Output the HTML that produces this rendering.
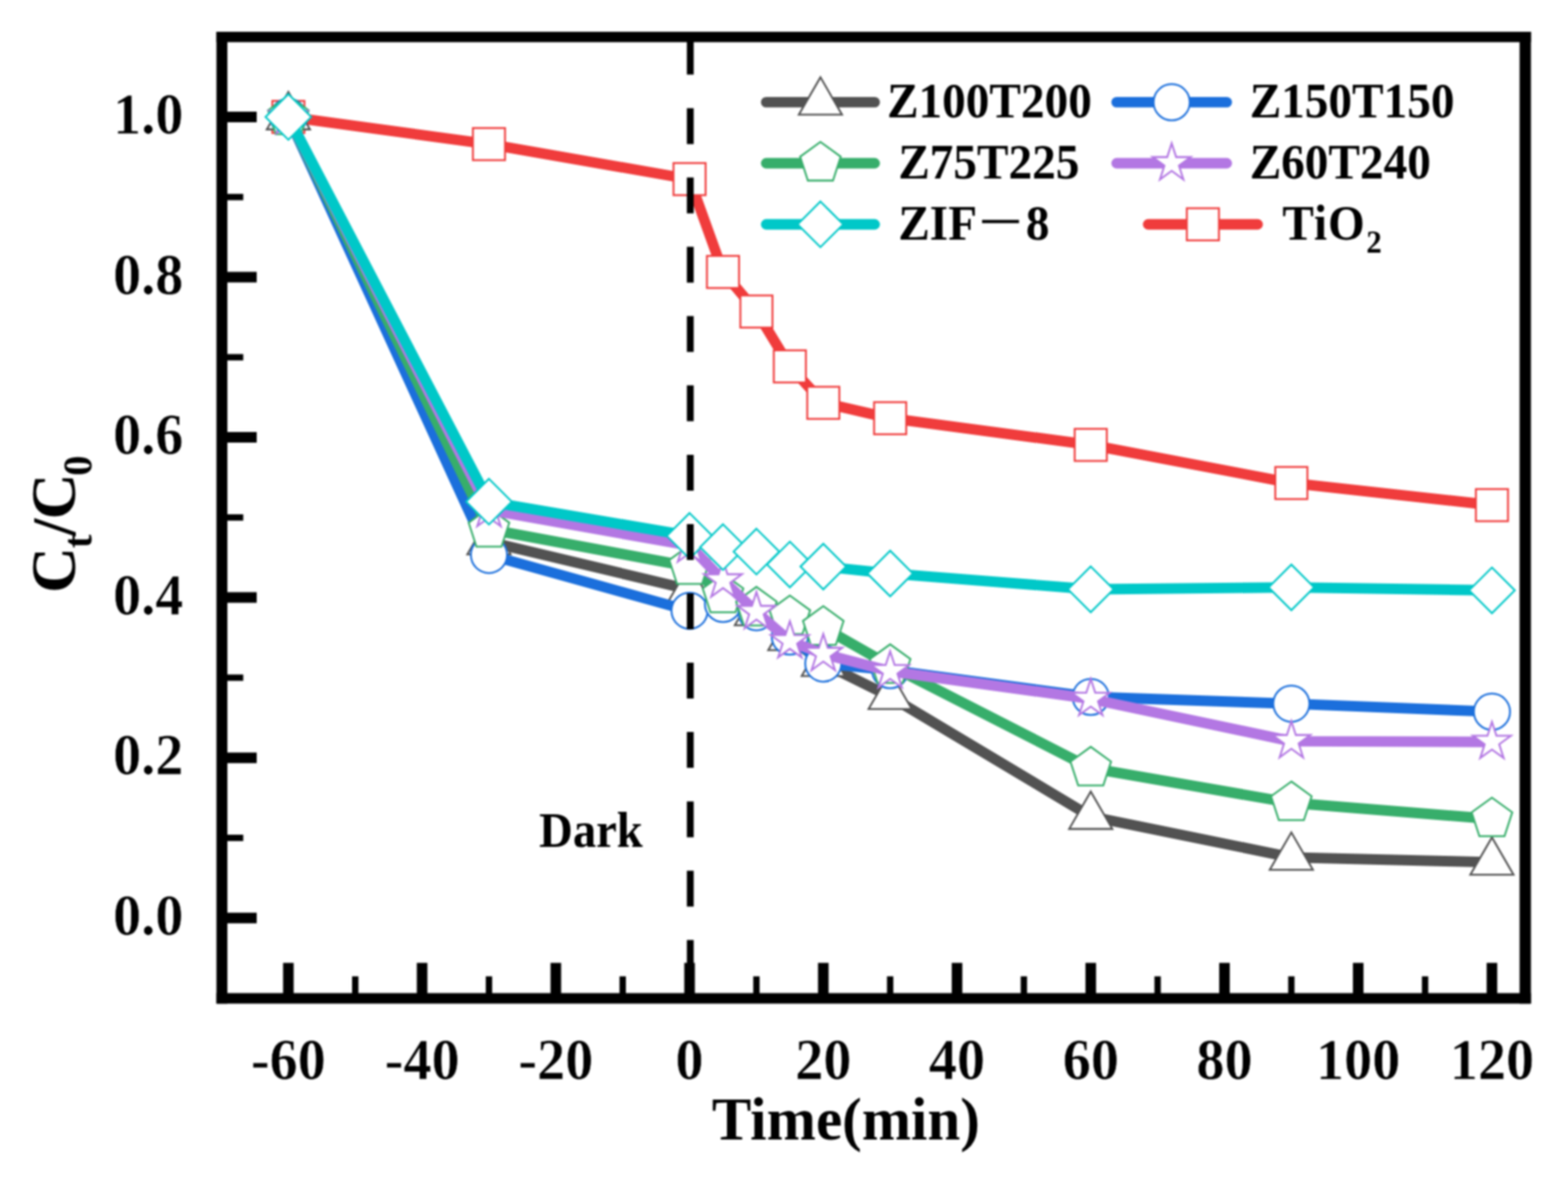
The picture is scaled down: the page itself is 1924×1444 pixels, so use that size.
<!DOCTYPE html>
<html lang="en">
<head>
<meta charset="utf-8">
<title>Ct/C0 vs Time</title>
<style>
html,body{margin:0;padding:0;background:#fff;}
body{width:1924px;height:1444px;overflow:hidden;}
svg{display:block;filter:blur(0.8px);}
</style>
</head>
<body>
<svg width="1924" height="1444" viewBox="0 0 1924 1444">
<rect width="1924" height="1444" fill="#fff"/>
<g>
<polyline points="353.85,143.47 599.98,176.79 846.12,219.74 887.15,333.64 928.17,382.18 969.19,449.5 1010.22,494.22 1092.26,513.09 1338.4,545.81 1584.54,592.59 1830.68,619.72" fill="none" stroke="#f03c3c" stroke-width="12.9" stroke-linejoin="round" stroke-linecap="butt"/>
<rect x="334.15" y="123.77" width="39.4" height="39.4" fill="#fff" stroke="#f03c3c" stroke-width="2.3" stroke-linejoin="miter"/>
<rect x="580.28" y="157.09" width="39.4" height="39.4" fill="#fff" stroke="#f03c3c" stroke-width="2.3" stroke-linejoin="miter"/>
<rect x="826.42" y="200.04" width="39.4" height="39.4" fill="#fff" stroke="#f03c3c" stroke-width="2.3" stroke-linejoin="miter"/>
<rect x="867.45" y="313.94" width="39.4" height="39.4" fill="#fff" stroke="#f03c3c" stroke-width="2.3" stroke-linejoin="miter"/>
<rect x="908.47" y="362.48" width="39.4" height="39.4" fill="#fff" stroke="#f03c3c" stroke-width="2.3" stroke-linejoin="miter"/>
<rect x="949.49" y="429.8" width="39.4" height="39.4" fill="#fff" stroke="#f03c3c" stroke-width="2.3" stroke-linejoin="miter"/>
<rect x="990.52" y="474.52" width="39.4" height="39.4" fill="#fff" stroke="#f03c3c" stroke-width="2.3" stroke-linejoin="miter"/>
<rect x="1072.56" y="493.39" width="39.4" height="39.4" fill="#fff" stroke="#f03c3c" stroke-width="2.3" stroke-linejoin="miter"/>
<rect x="1318.7" y="526.11" width="39.4" height="39.4" fill="#fff" stroke="#f03c3c" stroke-width="2.3" stroke-linejoin="miter"/>
<rect x="1564.84" y="572.89" width="39.4" height="39.4" fill="#fff" stroke="#f03c3c" stroke-width="2.3" stroke-linejoin="miter"/>
<rect x="1810.98" y="600.02" width="39.4" height="39.4" fill="#fff" stroke="#f03c3c" stroke-width="2.3" stroke-linejoin="miter"/>
</g>
<g>
<polyline points="353.85,143.47 599.98,664.73 846.12,723.3 887.15,735.09 928.17,751.8 969.19,782.26 1010.22,814.01 1092.26,854.59 1338.4,1001.71 1584.54,1051.83 1830.68,1057.92" fill="none" stroke="#525252" stroke-width="12.9" stroke-linejoin="round" stroke-linecap="butt"/>
<polygon points="353.85,112.87 380.35,158.77 327.35,158.77" fill="#fff" stroke="#525252" stroke-width="2.3" stroke-linejoin="miter"/>
<polygon points="599.98,634.13 626.48,680.03 573.48,680.03" fill="#fff" stroke="#525252" stroke-width="2.3" stroke-linejoin="miter"/>
<polygon points="846.12,692.7 872.62,738.6 819.62,738.6" fill="#fff" stroke="#525252" stroke-width="2.3" stroke-linejoin="miter"/>
<polygon points="887.15,704.49 913.65,750.39 860.65,750.39" fill="#fff" stroke="#525252" stroke-width="2.3" stroke-linejoin="miter"/>
<polygon points="928.17,721.2 954.67,767.1 901.67,767.1" fill="#fff" stroke="#525252" stroke-width="2.3" stroke-linejoin="miter"/>
<polygon points="969.19,751.66 995.69,797.56 942.69,797.56" fill="#fff" stroke="#525252" stroke-width="2.3" stroke-linejoin="miter"/>
<polygon points="1010.22,783.41 1036.72,829.31 983.72,829.31" fill="#fff" stroke="#525252" stroke-width="2.3" stroke-linejoin="miter"/>
<polygon points="1092.26,823.99 1118.76,869.89 1065.76,869.89" fill="#fff" stroke="#525252" stroke-width="2.3" stroke-linejoin="miter"/>
<polygon points="1338.4,971.11 1364.9,1017.01 1311.9,1017.01" fill="#fff" stroke="#525252" stroke-width="2.3" stroke-linejoin="miter"/>
<polygon points="1584.54,1021.23 1611.04,1067.13 1558.04,1067.13" fill="#fff" stroke="#525252" stroke-width="2.3" stroke-linejoin="miter"/>
<polygon points="1830.68,1027.32 1857.18,1073.22 1804.18,1073.22" fill="#fff" stroke="#525252" stroke-width="2.3" stroke-linejoin="miter"/>
</g>
<g>
<polyline points="353.85,143.47 599.98,680.84 846.12,749.34 887.15,740.99 928.17,751.11 969.19,780.98 1010.22,814.1 1092.26,822.16 1338.4,854.99 1584.54,863.34 1830.68,873.17" fill="none" stroke="#1b6fdc" stroke-width="12.9" stroke-linejoin="round" stroke-linecap="butt"/>
<circle cx="353.85" cy="143.47" r="22.2" fill="#fff" stroke="#1b6fdc" stroke-width="2.3" stroke-linejoin="miter"/>
<circle cx="599.98" cy="680.84" r="22.2" fill="#fff" stroke="#1b6fdc" stroke-width="2.3" stroke-linejoin="miter"/>
<circle cx="846.12" cy="749.34" r="22.2" fill="#fff" stroke="#1b6fdc" stroke-width="2.3" stroke-linejoin="miter"/>
<circle cx="887.15" cy="740.99" r="22.2" fill="#fff" stroke="#1b6fdc" stroke-width="2.3" stroke-linejoin="miter"/>
<circle cx="928.17" cy="751.11" r="22.2" fill="#fff" stroke="#1b6fdc" stroke-width="2.3" stroke-linejoin="miter"/>
<circle cx="969.19" cy="780.98" r="22.2" fill="#fff" stroke="#1b6fdc" stroke-width="2.3" stroke-linejoin="miter"/>
<circle cx="1010.22" cy="814.1" r="22.2" fill="#fff" stroke="#1b6fdc" stroke-width="2.3" stroke-linejoin="miter"/>
<circle cx="1092.26" cy="822.16" r="22.2" fill="#fff" stroke="#1b6fdc" stroke-width="2.3" stroke-linejoin="miter"/>
<circle cx="1338.4" cy="854.99" r="22.2" fill="#fff" stroke="#1b6fdc" stroke-width="2.3" stroke-linejoin="miter"/>
<circle cx="1584.54" cy="863.34" r="22.2" fill="#fff" stroke="#1b6fdc" stroke-width="2.3" stroke-linejoin="miter"/>
<circle cx="1830.68" cy="873.17" r="22.2" fill="#fff" stroke="#1b6fdc" stroke-width="2.3" stroke-linejoin="miter"/>
</g>
<g>
<polyline points="353.85,143.47 599.98,649.39 846.12,695.09 887.15,729.98 928.17,746.2 969.19,756.81 1010.22,769.88 1092.26,816.66 1338.4,942.45 1584.54,985 1830.68,1004.76" fill="none" stroke="#37ae6b" stroke-width="12.9" stroke-linejoin="round" stroke-linecap="butt"/>
<polygon points="353.85,117.27 378.76,135.38 369.25,164.67 338.45,164.67 328.93,135.38" fill="#fff" stroke="#37ae6b" stroke-width="2.3" stroke-linejoin="miter"/>
<polygon points="599.98,623.19 624.9,641.3 615.38,670.59 584.58,670.59 575.07,641.3" fill="#fff" stroke="#37ae6b" stroke-width="2.3" stroke-linejoin="miter"/>
<polygon points="846.12,668.89 871.04,687 861.52,716.29 830.72,716.29 821.21,687" fill="#fff" stroke="#37ae6b" stroke-width="2.3" stroke-linejoin="miter"/>
<polygon points="887.15,703.78 912.06,721.88 902.55,751.18 871.75,751.18 862.23,721.88" fill="#fff" stroke="#37ae6b" stroke-width="2.3" stroke-linejoin="miter"/>
<polygon points="928.17,720 953.09,738.1 943.57,767.39 912.77,767.39 903.25,738.1" fill="#fff" stroke="#37ae6b" stroke-width="2.3" stroke-linejoin="miter"/>
<polygon points="969.19,730.61 994.11,748.71 984.59,778.01 953.79,778.01 944.27,748.71" fill="#fff" stroke="#37ae6b" stroke-width="2.3" stroke-linejoin="miter"/>
<polygon points="1010.22,743.68 1035.13,761.78 1025.62,791.08 994.82,791.08 985.3,761.78" fill="#fff" stroke="#37ae6b" stroke-width="2.3" stroke-linejoin="miter"/>
<polygon points="1092.26,790.46 1117.18,808.56 1107.66,837.85 1076.86,837.85 1067.34,808.56" fill="#fff" stroke="#37ae6b" stroke-width="2.3" stroke-linejoin="miter"/>
<polygon points="1338.4,916.25 1363.32,934.35 1353.8,963.65 1323,963.65 1313.48,934.35" fill="#fff" stroke="#37ae6b" stroke-width="2.3" stroke-linejoin="miter"/>
<polygon points="1584.54,958.8 1609.46,976.91 1599.94,1006.2 1569.14,1006.2 1559.62,976.91" fill="#fff" stroke="#37ae6b" stroke-width="2.3" stroke-linejoin="miter"/>
<polygon points="1830.68,978.56 1855.59,996.66 1846.08,1025.95 1815.28,1025.95 1805.76,996.66" fill="#fff" stroke="#37ae6b" stroke-width="2.3" stroke-linejoin="miter"/>
</g>
<g>
<polyline points="353.85,143.47 599.98,625.71 846.12,669.25 887.15,712.09 928.17,750.81 969.19,786.68 1010.22,802.31 1092.26,823.54 1338.4,857.44 1584.54,909.33 1830.68,910.22" fill="none" stroke="#b377e3" stroke-width="12.9" stroke-linejoin="round" stroke-linecap="butt"/>
<polygon points="353.85,118.97 359.35,135.9 377.15,135.9 362.75,146.37 368.25,163.3 353.85,152.83 339.45,163.3 344.95,146.37 330.55,135.9 348.35,135.9" fill="#fff" stroke="#b377e3" stroke-width="2.3" stroke-linejoin="miter"/>
<polygon points="599.98,601.21 605.49,618.14 623.29,618.14 608.89,628.6 614.39,645.53 599.98,635.07 585.58,645.53 591.08,628.6 576.68,618.14 594.48,618.14" fill="#fff" stroke="#b377e3" stroke-width="2.3" stroke-linejoin="miter"/>
<polygon points="846.12,644.75 851.62,661.67 869.42,661.68 855.02,672.14 860.52,689.07 846.12,678.61 831.72,689.07 837.22,672.14 822.82,661.68 840.62,661.67" fill="#fff" stroke="#b377e3" stroke-width="2.3" stroke-linejoin="miter"/>
<polygon points="887.15,687.59 892.65,704.52 910.45,704.52 896.05,714.99 901.55,731.92 887.15,721.45 872.75,731.92 878.25,714.99 863.85,704.52 881.65,704.52" fill="#fff" stroke="#b377e3" stroke-width="2.3" stroke-linejoin="miter"/>
<polygon points="928.17,726.31 933.67,743.24 951.47,743.24 937.07,753.71 942.57,770.64 928.17,760.17 913.77,770.64 919.27,753.71 904.87,743.24 922.67,743.24" fill="#fff" stroke="#b377e3" stroke-width="2.3" stroke-linejoin="miter"/>
<polygon points="969.19,762.18 974.69,779.11 992.49,779.11 978.09,789.58 983.59,806.51 969.19,796.04 954.79,806.51 960.29,789.58 945.89,779.11 963.69,779.11" fill="#fff" stroke="#b377e3" stroke-width="2.3" stroke-linejoin="miter"/>
<polygon points="1010.22,777.81 1015.72,794.74 1033.52,794.74 1019.12,805.2 1024.62,822.13 1010.22,811.67 995.81,822.13 1001.31,805.2 986.91,794.74 1004.71,794.74" fill="#fff" stroke="#b377e3" stroke-width="2.3" stroke-linejoin="miter"/>
<polygon points="1092.26,799.04 1097.76,815.97 1115.56,815.97 1101.16,826.43 1106.66,843.36 1092.26,832.9 1077.86,843.36 1083.36,826.43 1068.96,815.97 1086.76,815.97" fill="#fff" stroke="#b377e3" stroke-width="2.3" stroke-linejoin="miter"/>
<polygon points="1338.4,832.94 1343.9,849.87 1361.7,849.87 1347.3,860.33 1352.8,877.26 1338.4,866.8 1324,877.26 1329.5,860.33 1315.1,849.87 1332.9,849.87" fill="#fff" stroke="#b377e3" stroke-width="2.3" stroke-linejoin="miter"/>
<polygon points="1584.54,884.83 1590.04,901.76 1607.84,901.76 1593.44,912.22 1598.94,929.15 1584.54,918.69 1570.14,929.15 1575.64,912.22 1561.24,901.76 1579.04,901.76" fill="#fff" stroke="#b377e3" stroke-width="2.3" stroke-linejoin="miter"/>
<polygon points="1830.68,885.72 1836.18,902.64 1853.98,902.65 1839.58,913.11 1845.08,930.04 1830.68,919.58 1816.28,930.04 1821.78,913.11 1807.38,902.65 1825.18,902.64" fill="#fff" stroke="#b377e3" stroke-width="2.3" stroke-linejoin="miter"/>
</g>
<g>
<polyline points="353.85,143.47 599.98,615.49 846.12,657.45 887.15,671.21 928.17,676.72 969.19,692.54 1010.22,695.09 1092.26,703.64 1338.4,723 1584.54,720.64 1830.68,724.28" fill="none" stroke="#00c8c8" stroke-width="12.9" stroke-linejoin="round" stroke-linecap="butt"/>
<polygon points="353.85,115.47 381.85,143.47 353.85,171.47 325.85,143.47" fill="#fff" stroke="#00c8c8" stroke-width="2.3" stroke-linejoin="miter"/>
<polygon points="599.98,587.49 627.98,615.49 599.98,643.49 571.98,615.49" fill="#fff" stroke="#00c8c8" stroke-width="2.3" stroke-linejoin="miter"/>
<polygon points="846.12,629.45 874.12,657.45 846.12,685.45 818.12,657.45" fill="#fff" stroke="#00c8c8" stroke-width="2.3" stroke-linejoin="miter"/>
<polygon points="887.15,643.21 915.15,671.21 887.15,699.21 859.15,671.21" fill="#fff" stroke="#00c8c8" stroke-width="2.3" stroke-linejoin="miter"/>
<polygon points="928.17,648.72 956.17,676.72 928.17,704.72 900.17,676.72" fill="#fff" stroke="#00c8c8" stroke-width="2.3" stroke-linejoin="miter"/>
<polygon points="969.19,664.54 997.19,692.54 969.19,720.54 941.19,692.54" fill="#fff" stroke="#00c8c8" stroke-width="2.3" stroke-linejoin="miter"/>
<polygon points="1010.22,667.09 1038.22,695.09 1010.22,723.09 982.22,695.09" fill="#fff" stroke="#00c8c8" stroke-width="2.3" stroke-linejoin="miter"/>
<polygon points="1092.26,675.64 1120.26,703.64 1092.26,731.64 1064.26,703.64" fill="#fff" stroke="#00c8c8" stroke-width="2.3" stroke-linejoin="miter"/>
<polygon points="1338.4,695 1366.4,723 1338.4,751 1310.4,723" fill="#fff" stroke="#00c8c8" stroke-width="2.3" stroke-linejoin="miter"/>
<polygon points="1584.54,692.64 1612.54,720.64 1584.54,748.64 1556.54,720.64" fill="#fff" stroke="#00c8c8" stroke-width="2.3" stroke-linejoin="miter"/>
<polygon points="1830.68,696.28 1858.68,724.28 1830.68,752.28 1802.68,724.28" fill="#fff" stroke="#00c8c8" stroke-width="2.3" stroke-linejoin="miter"/>
</g>
<g stroke="#000" fill="none">
<line x1="353.85" y1="1224.5" x2="353.85" y2="1181.3" stroke-width="13"/>
<line x1="517.94" y1="1224.5" x2="517.94" y2="1181.3" stroke-width="13"/>
<line x1="682.03" y1="1224.5" x2="682.03" y2="1181.3" stroke-width="13"/>
<line x1="846.12" y1="1224.5" x2="846.12" y2="1181.3" stroke-width="13"/>
<line x1="1010.22" y1="1224.5" x2="1010.22" y2="1181.3" stroke-width="13"/>
<line x1="1174.31" y1="1224.5" x2="1174.31" y2="1181.3" stroke-width="13"/>
<line x1="1338.4" y1="1224.5" x2="1338.4" y2="1181.3" stroke-width="13"/>
<line x1="1502.49" y1="1224.5" x2="1502.49" y2="1181.3" stroke-width="13"/>
<line x1="1666.58" y1="1224.5" x2="1666.58" y2="1181.3" stroke-width="13"/>
<line x1="1830.68" y1="1224.5" x2="1830.68" y2="1181.3" stroke-width="13"/>
<line x1="435.89" y1="1224.5" x2="435.89" y2="1197.8" stroke-width="7.8"/>
<line x1="599.98" y1="1224.5" x2="599.98" y2="1197.8" stroke-width="7.8"/>
<line x1="764.08" y1="1224.5" x2="764.08" y2="1197.8" stroke-width="7.8"/>
<line x1="928.17" y1="1224.5" x2="928.17" y2="1197.8" stroke-width="7.8"/>
<line x1="1092.26" y1="1224.5" x2="1092.26" y2="1197.8" stroke-width="7.8"/>
<line x1="1256.35" y1="1224.5" x2="1256.35" y2="1197.8" stroke-width="7.8"/>
<line x1="1420.45" y1="1224.5" x2="1420.45" y2="1197.8" stroke-width="7.8"/>
<line x1="1584.54" y1="1224.5" x2="1584.54" y2="1197.8" stroke-width="7.8"/>
<line x1="1748.63" y1="1224.5" x2="1748.63" y2="1197.8" stroke-width="7.8"/>
<line x1="271.8" y1="1126.22" x2="315" y2="1126.22" stroke-width="13"/>
<line x1="271.8" y1="929.67" x2="315" y2="929.67" stroke-width="13"/>
<line x1="271.8" y1="733.12" x2="315" y2="733.12" stroke-width="13"/>
<line x1="271.8" y1="536.57" x2="315" y2="536.57" stroke-width="13"/>
<line x1="271.8" y1="340.03" x2="315" y2="340.03" stroke-width="13"/>
<line x1="271.8" y1="143.47" x2="315" y2="143.47" stroke-width="13"/>
<line x1="271.8" y1="1027.95" x2="298.5" y2="1027.95" stroke-width="7.8"/>
<line x1="271.8" y1="831.4" x2="298.5" y2="831.4" stroke-width="7.8"/>
<line x1="271.8" y1="634.85" x2="298.5" y2="634.85" stroke-width="7.8"/>
<line x1="271.8" y1="438.3" x2="298.5" y2="438.3" stroke-width="7.8"/>
<line x1="271.8" y1="241.75" x2="298.5" y2="241.75" stroke-width="7.8"/>
<rect x="265.6" y="39" width="13.4" height="1192.3" fill="#000" stroke="none"/>
<rect x="1864.6" y="39" width="13.9" height="1192.3" fill="#000" stroke="none"/>
<rect x="265.6" y="39" width="1612.9" height="12.7" fill="#000" stroke="none"/>
<rect x="265.6" y="1218.4" width="1612.9" height="12.9" fill="#000" stroke="none"/>
<line x1="847" y1="47.6" x2="847" y2="1224.5" stroke-width="8.4" stroke-dasharray="44 41.05"/>
</g>
<g font-family="'Liberation Serif', 'Noto Serif CJK SC', serif" font-weight="bold" fill="#000">
<g font-size="69" text-anchor="middle" stroke="#fff" stroke-width="0.6">
<text transform="translate(353.85 1323.6) scale(1 1.04)">-60</text>
<text transform="translate(517.94 1323.6) scale(1 1.04)">-40</text>
<text transform="translate(682.03 1323.6) scale(1 1.04)">-20</text>
<text transform="translate(846.12 1323.6) scale(1 1.04)">0</text>
<text transform="translate(1010.22 1323.6) scale(1 1.04)">20</text>
<text transform="translate(1174.31 1323.6) scale(1 1.04)">40</text>
<text transform="translate(1338.4 1323.6) scale(1 1.04)">60</text>
<text transform="translate(1502.49 1323.6) scale(1 1.04)">80</text>
<text transform="translate(1666.58 1323.6) scale(1 1.04)">100</text>
<text transform="translate(1830.68 1323.6) scale(1 1.04)">120</text>
</g>
<g font-size="69" text-anchor="end" stroke="#fff" stroke-width="0.6">
<text transform="translate(225 1146.82) scale(1 1.035)">0.0</text>
<text transform="translate(225 950.27) scale(1 1.035)">0.2</text>
<text transform="translate(225 753.73) scale(1 1.035)">0.4</text>
<text transform="translate(225 557.17) scale(1 1.035)">0.6</text>
<text transform="translate(225 360.63) scale(1 1.035)">0.8</text>
<text transform="translate(225 164.07) scale(1 1.035)">1.0</text>
</g>
<text transform="translate(1038.0 1398.4) scale(1 1.02)" font-size="72.5" text-anchor="middle">Time(min)</text>
<text transform="translate(91.6 0) rotate(-90)" font-size="78"><tspan x="-727.5" y="0">C</tspan><tspan x="-672.5" y="20.3" font-size="50">t</tspan><tspan x="-657.5" y="0" font-size="76">/</tspan><tspan x="-637.3" y="0">C</tspan><tspan x="-583.8" y="20.3" font-size="50">0</tspan></text>
<text transform="translate(661.6 1038.6) scale(1 1.07)" font-size="57.2">Dark</text>
</g>
<g font-family="'Liberation Serif', 'Noto Serif CJK SC', serif" font-weight="bold" fill="#000" font-size="58">
<line x1="940.15" y1="125.4" x2="1073.25" y2="125.4" stroke="#525252" stroke-width="12.9" stroke-linecap="round"/><polygon points="1006.7,94.8 1033.2,140.7 980.2,140.7" fill="#fff" stroke="#525252" stroke-width="2.3" stroke-linejoin="miter"/><text transform="translate(1088.4 144.4) scale(1 1.045)">Z100T200</text>
<line x1="940.15" y1="200.3" x2="1073.25" y2="200.3" stroke="#37ae6b" stroke-width="12.9" stroke-linecap="round"/><polygon points="1006.7,174.1 1031.62,192.2 1022.1,221.5 991.3,221.5 981.78,192.2" fill="#fff" stroke="#37ae6b" stroke-width="2.3" stroke-linejoin="miter"/><text transform="translate(1102.2 219.3) scale(1 1.045)">Z75T225</text>
<line x1="940.15" y1="275.2" x2="1073.25" y2="275.2" stroke="#00c8c8" stroke-width="12.9" stroke-linecap="round"/><polygon points="1006.7,247.2 1034.7,275.2 1006.7,303.2 978.7,275.2" fill="#fff" stroke="#00c8c8" stroke-width="2.3" stroke-linejoin="miter"/><text transform="translate(1102.2 294.2) scale(1 1.045)">ZIF<tspan font-weight="normal" stroke="#000" stroke-width="1.3">－</tspan><tspan dx="2">8</tspan></text>
<line x1="1370.15" y1="125.4" x2="1505.25" y2="125.4" stroke="#1b6fdc" stroke-width="12.9" stroke-linecap="round"/><circle cx="1437.7" cy="125.4" r="22.2" fill="#fff" stroke="#1b6fdc" stroke-width="2.3" stroke-linejoin="miter"/><text transform="translate(1533.4 144.4) scale(1 1.045)">Z150T150</text>
<line x1="1370.15" y1="200.3" x2="1505.25" y2="200.3" stroke="#b377e3" stroke-width="12.9" stroke-linecap="round"/><polygon points="1437.7,175.8 1443.2,192.73 1461,192.73 1446.6,203.19 1452.1,220.12 1437.7,209.66 1423.3,220.12 1428.8,203.19 1414.4,192.73 1432.2,192.73" fill="#fff" stroke="#b377e3" stroke-width="2.3" stroke-linejoin="miter"/><text transform="translate(1533.4 219.3) scale(1 1.045)">Z60T240</text>
<line x1="1408.85" y1="275.2" x2="1543.15" y2="275.2" stroke="#f03c3c" stroke-width="12.9" stroke-linecap="round"/><rect x="1456.3" y="255.5" width="39.4" height="39.4" fill="#fff" stroke="#f03c3c" stroke-width="2.3" stroke-linejoin="miter"/><text transform="translate(1573.4 294.2) scale(1 1.045)"><tspan letter-spacing="1.2">TiO</tspan><tspan font-size="38" dy="15.2" dx="0.6">2</tspan></text>
</g>
</svg>
</body>
</html>
